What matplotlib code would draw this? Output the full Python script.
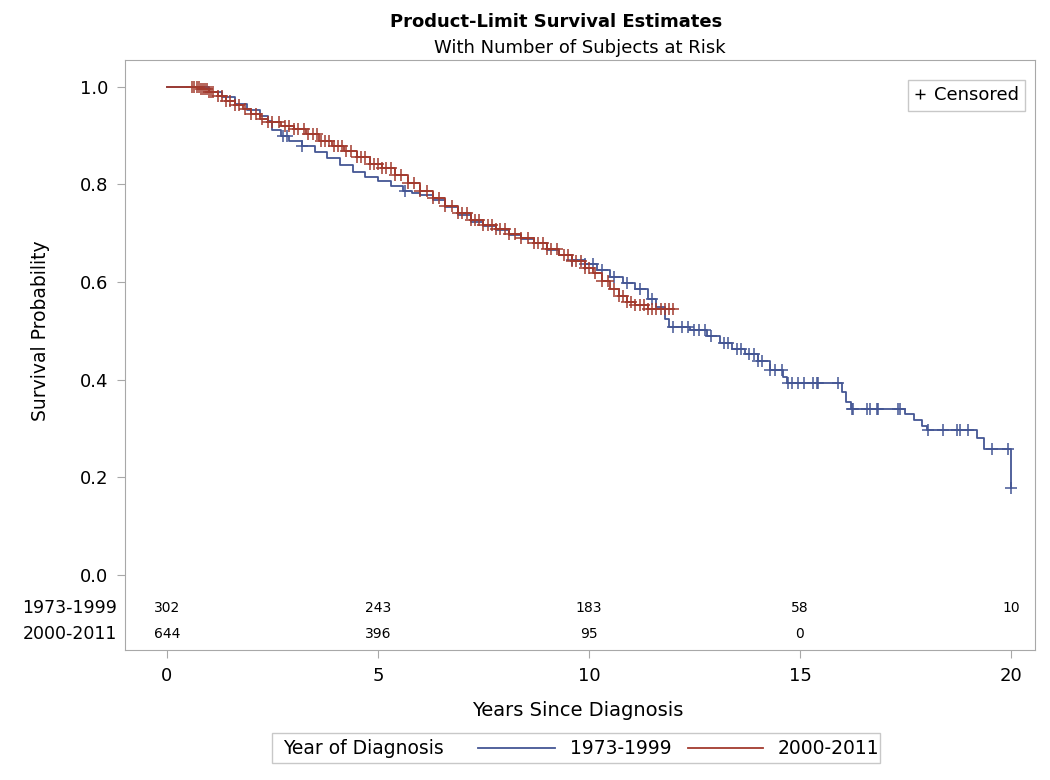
import numpy as np
import matplotlib.pyplot as plt
from matplotlib.lines import Line2D
from matplotlib.patches import Rectangle

plt.rcParams['font.family'] = ['DejaVu Sans']

# 1973-1999: step times (years) and survival after each step
old_t = [0.0, 1.0, 1.3, 1.6, 1.9, 2.2, 2.4, 2.5, 2.7, 2.9, 3.2, 3.5, 3.8, 4.1,
         4.4, 4.7, 5.0, 5.3, 5.6, 5.8, 6.0, 6.3, 6.6, 6.9, 7.2, 7.5, 7.8, 8.1,
         8.4, 8.7, 9.0, 9.3, 9.6, 9.9, 10.2, 10.5, 10.8, 11.1, 11.4, 11.6, 11.8,
         11.9, 12.4, 12.8, 13.1, 13.4, 13.7, 14.0, 14.3, 14.6, 14.7, 16.0, 16.1,
         16.2, 17.5, 17.7, 17.9, 18.0, 19.2, 19.35, 20.0]
old_s = [1.0, 0.99, 0.98, 0.965, 0.952, 0.94, 0.93, 0.912, 0.9, 0.89,
         0.878, 0.866, 0.855, 0.84, 0.825, 0.815, 0.808, 0.797, 0.787, 0.782,
         0.778, 0.768, 0.754, 0.738, 0.724, 0.714, 0.706, 0.696, 0.688, 0.679,
         0.666, 0.656, 0.645, 0.637, 0.625, 0.61, 0.598, 0.585, 0.565, 0.548,
         0.525, 0.508, 0.502, 0.49, 0.475, 0.462, 0.452, 0.438, 0.42, 0.405,
         0.394, 0.375, 0.355, 0.34, 0.33, 0.318, 0.305, 0.297, 0.28, 0.257, 0.178]
old_cens = [2.75, 2.85, 3.2, 5.65, 9.6, 9.9, 10.1, 10.3, 10.6, 10.9, 11.2, 11.5,
            12.0, 12.2, 12.35, 12.5, 12.6, 12.75, 12.9, 13.2, 13.3, 13.5, 13.6,
            13.8, 13.9, 14.0, 14.1, 14.3, 14.4, 14.57, 14.72, 14.8, 14.95, 15.1,
            15.3, 15.4, 15.43, 15.9, 16.23, 16.26, 16.6, 16.66, 16.82, 16.85,
            17.32, 17.37, 18.03, 18.39, 18.72, 18.79, 18.98, 19.55, 19.93, 20.0]
old_end = 20.0

# 2000-2011
new_t = [0.0, 0.8, 1.0, 1.2, 1.4, 1.6, 1.8, 2.0, 2.2, 2.4, 2.7, 3.0, 3.3, 3.6,
         3.9, 4.2, 4.5, 4.8, 5.1, 5.4, 5.7, 6.0, 6.3, 6.6, 6.9, 7.2, 7.5, 7.8,
         8.1, 8.4, 8.7, 9.0, 9.3, 9.6, 9.9, 10.1, 10.3, 10.5, 10.7, 10.9, 11.1,
         11.4]
new_s = [1.0, 0.995, 0.99, 0.982, 0.972, 0.963, 0.955, 0.945, 0.935, 0.927,
         0.92, 0.914, 0.903, 0.89, 0.878, 0.868, 0.856, 0.842, 0.833, 0.82,
         0.803, 0.786, 0.772, 0.756, 0.741, 0.727, 0.717, 0.709, 0.699, 0.691,
         0.681, 0.667, 0.656, 0.643, 0.628, 0.618, 0.603, 0.585, 0.572, 0.56,
         0.552, 0.545]
new_cens = [0.6, 0.65, 0.7, 0.75, 0.8, 0.85, 0.9, 0.95, 1.0, 1.05, 1.1, 1.2, 1.3,
            1.4, 1.5, 1.6, 1.7, 1.85, 2.0, 2.1, 2.25, 2.4, 2.5, 2.65, 2.8, 2.9,
            3.0, 3.1, 3.25, 3.35, 3.45, 3.55, 3.65, 3.75, 3.85, 3.95, 4.05, 4.15,
            4.25, 4.35, 4.5, 4.6, 4.7, 4.8, 4.9, 5.0, 5.1, 5.2, 5.3, 5.4, 5.55,
            5.7, 5.85, 6.0, 6.15, 6.3, 6.45, 6.6, 6.75, 6.9, 7.0, 7.1, 7.2, 7.3,
            7.4, 7.5, 7.6, 7.7, 7.8, 7.9, 8.0, 8.1, 8.25, 8.4, 8.55, 8.7, 8.8,
            8.9, 9.0, 9.1, 9.25, 9.4, 9.5, 9.6, 9.7, 9.8, 9.9, 10.0, 10.15, 10.3,
            10.45, 10.6, 10.7, 10.8, 10.9, 11.0, 11.1, 11.2, 11.3, 11.4, 11.5,
            11.6, 11.7, 11.8, 11.9, 12.0]
new_end = 12.0

groups = ['1973-1999', '2000-2011']
risk_years = [0, 5, 10, 15, 20]
risk_old = ['302', '243', '183', '58', '10']
risk_new = ['644', '396', '95', '0', '']

blue = '#445694'
red = '#a23a2e'
grey = '#a8a8a8'

W, H = 1050, 780
fig = plt.figure(figsize=(W / 100, H / 100), dpi=100)
ax = fig.add_axes([125 / W, 130 / H, 910 / W, 590 / H])


def km(t, s, cens, end, color):
    t = np.array(t + [end])
    s = np.array(s + [s[-1]])
    ax.step(t, s, where='post', color=color, lw=1.3)
    idx = np.searchsorted(t, cens, side='right') - 1
    ax.plot(cens, s[idx], '+', color=color, ms=9, mew=1.1)


km(old_t, old_s, old_cens, old_end, blue)
km(new_t, new_s, new_cens, new_end, red)

ax.set_xlim(-0.995, 20.57)
ax.set_ylim(-0.154, 1.055)
ax.set_xticks(risk_years)
ax.set_yticks([0.0, 0.2, 0.4, 0.6, 0.8, 1.0])
ax.set_yticklabels(['0.0', '0.2', '0.4', '0.6', '0.8', '1.0'])
ax.tick_params(color=grey, length=6, labelsize=13, pad=6)
for sp in ax.spines.values():
    sp.set_color(grey)

# at-risk table
for yv, lab, vals in [(-0.068, groups[0], risk_old), (-0.121, groups[1], risk_new)]:
    ax.text(-0.009, yv, lab, transform=ax.get_yaxis_transform(),
            ha='right', va='center', fontsize=12.5)
    for x, v in zip(risk_years, vals):
        ax.text(x, yv, v, ha='center', va='center', fontsize=10)

ax.legend(handles=[Line2D([], [], marker='+', ls='none', color='black', ms=7)],
          labels=['Censored'], loc='upper right',
          bbox_to_anchor=(1 - 10 / 910, 1 - 20 / 590), borderaxespad=0,
          fancybox=False, edgecolor='#c8c8c8', framealpha=1,
          handlelength=0.7, handletextpad=0.4, borderpad=0.35, fontsize=13)

fig.text(556 / W, 1 - 22 / H, 'Product-Limit Survival Estimates',
         ha='center', va='center', fontsize=13, weight='bold')
fig.text(580 / W, 1 - 48 / H, 'With Number of Subjects at Risk',
         ha='center', va='center', fontsize=13)
fig.text(40 / W, 1 - 331 / H, 'Survival Probability', rotation=90,
         ha='center', va='center', fontsize=13.5)
fig.text(578 / W, 1 - 711 / H, 'Years Since Diagnosis',
         ha='center', va='center', fontsize=14)

# bottom legend
fig.add_artist(Rectangle((272 / W, 1 - 763 / H), 608 / W, 30 / H,
                         transform=fig.transFigure, facecolor='white',
                         edgecolor='#c8c8c8', lw=1))
ly = 1 - 748 / H
fig.text(283 / W, ly, 'Year of Diagnosis', ha='left', va='center', fontsize=13.5)
fig.add_artist(Line2D([478 / W, 555 / W], [ly, ly], color=blue, lw=1.3,
                      transform=fig.transFigure))
fig.text(570 / W, ly, groups[0], ha='left', va='center', fontsize=13.5)
fig.add_artist(Line2D([688 / W, 763 / W], [ly, ly], color=red, lw=1.3,
                      transform=fig.transFigure))
fig.text(778 / W, ly, groups[1], ha='left', va='center', fontsize=13.5)

fig.savefig('out.png', dpi=100)
